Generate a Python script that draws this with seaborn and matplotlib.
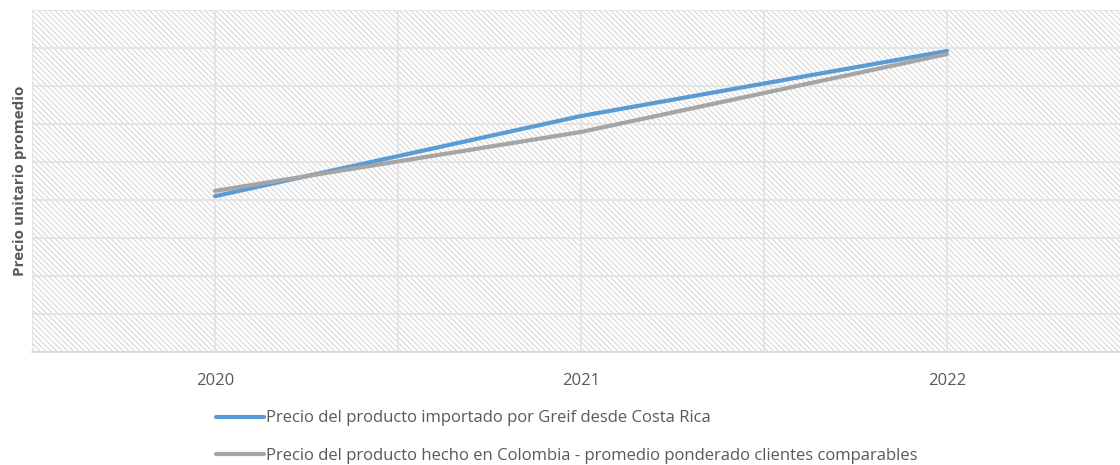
import matplotlib
matplotlib.use("Agg")
import matplotlib.pyplot as plt
import seaborn as sns
import pandas as pd
from matplotlib.patches import Rectangle
from matplotlib.lines import Line2D

# data (no y scale shown, arbitrary units)
years = ["2020", "2021", "2022"]
precio_costa_rica = [4.10, 6.21, 7.92]
precio_colombia = [4.24, 5.79, 7.84]
series_names = [
    "Precio del producto importado por Greif desde Costa Rica",
    "Precio del producto hecho en Colombia - promedio ponderado clientes comparables",
]
colors = ["#5b9bd5", "#a5a5a5"]

df = pd.DataFrame({
    "year": years * 2,
    "pos": [0, 1, 2] * 2,
    "precio": precio_costa_rica + precio_colombia,
    "serie": [series_names[0]] * 3 + [series_names[1]] * 3,
})

sns.set_style("white")
plt.rcParams["font.family"] = ["Open Sans", "DejaVu Sans"]
plt.rcParams["hatch.color"] = "#dcdcdc"
plt.rcParams["hatch.linewidth"] = 0.9

fig = plt.figure(figsize=(11.2, 4.65), dpi=100)
ax = fig.add_axes([32 / 1120, 113 / 465, 1 - 32 / 1120, 342 / 465])

# hatched plot background
ax.add_patch(Rectangle((0, 0), 1, 1, transform=ax.transAxes, facecolor="white",
                       edgecolor="#dcdcdc", hatch="\\\\\\\\\\\\", linewidth=0, zorder=0))

sns.lineplot(data=df, x="pos", y="precio", hue="serie", palette=colors,
             linewidth=3, ax=ax, legend=False, zorder=3)

ax.set_xlim(-0.5, 2.473)
ax.set_ylim(0, 9)
ax.set_xticks([0, 1, 2])
ax.set_xticklabels(years)
ax.set_xticks([-0.5, 0.5, 1.5], minor=True)
ax.set_yticks(range(10))
ax.set_yticklabels([])
ax.tick_params(axis="both", which="both", length=0)
ax.tick_params(axis="x", pad=15, labelsize=12, labelcolor="#595959")
ax.grid(True, which="both", color="#e0e0e0", linewidth=1.1, zorder=1)
ax.set_axisbelow(True)
for side in ["top", "right", "left"]:
    ax.spines[side].set_visible(False)
ax.spines["bottom"].set_color("#d9d9d9")
ax.spines["bottom"].set_linewidth(1.3)

ax.set_xlabel("")
ax.set_ylabel("Precio unitario promedio", fontsize=11, fontweight="bold",
              color="#595959")
ax.yaxis.set_label_coords(-5 / 1088, 0.5)

handles = [Line2D([0], [0], color=c, linewidth=3) for c in colors]
fig.legend(handles, series_names, loc="upper left", bbox_to_anchor=(208 / 1120, 1 - 402 / 465),
           frameon=False, fontsize=12, handlelength=2.85, handletextpad=0.15,
           labelspacing=1.3, labelcolor="#595959", borderpad=0)

fig.savefig("out.png", dpi=100)
